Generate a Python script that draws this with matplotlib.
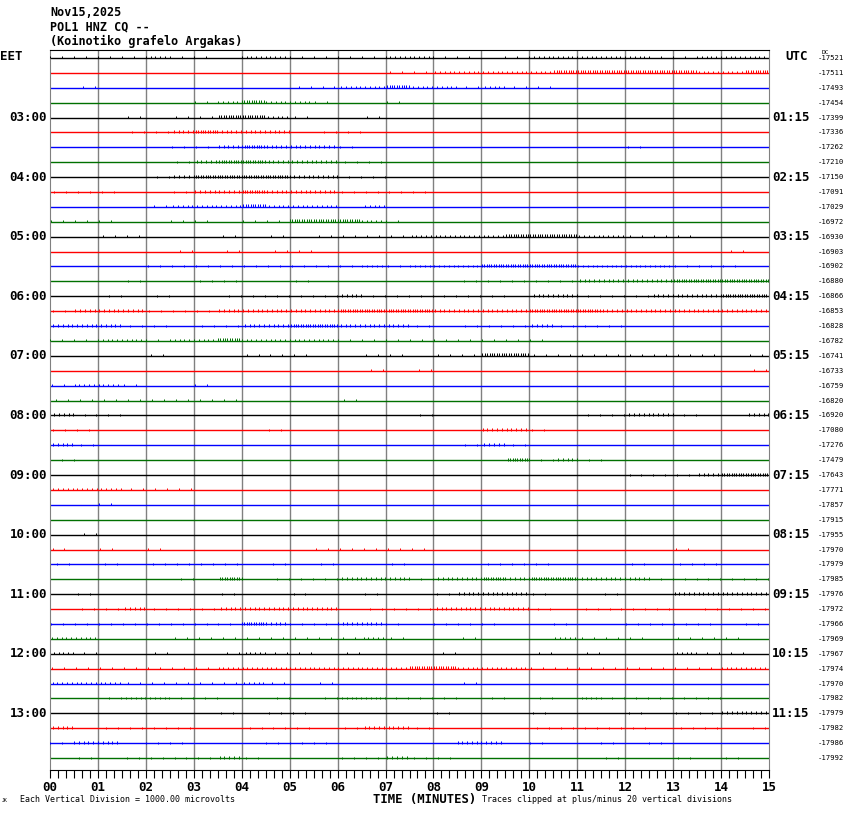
import numpy as np
import matplotlib.pyplot as plt

# ===============================
# DATA (read off the helicorder)
# ===============================
station_lines = ["Nov15,2025", "POL1 HNZ CQ --", "(Koinotiko grafelo Argakas)"]

left_hours = ["03:00", "04:00", "05:00", "06:00", "07:00", "08:00",
              "09:00", "10:00", "11:00", "12:00", "13:00"]
right_hours = ["01:15", "02:15", "03:15", "04:15", "05:15", "06:15",
               "07:15", "08:15", "09:15", "10:15", "11:15"]
hour_rows = [4, 8, 12, 16, 20, 24, 28, 32, 36, 40, 44]

dc_offsets = [-17521, -17511, -17493, -17454, -17399, -17336, -17262, -17210,
              -17150, -17091, -17029, -16972, -16930, -16903, -16902, -16880,
              -16866, -16853, -16828, -16782, -16741, -16733, -16759, -16820,
              -16920, -17080, -17276, -17479, -17643, -17771, -17857, -17915,
              -17955, -17970, -17979, -17985, -17976, -17972, -17966, -17969,
              -17967, -17974, -17970, -17982, -17979, -17982, -17986, -17992]

minute_labels = ["00", "01", "02", "03", "04", "05", "06", "07",
                 "08", "09", "10", "11", "12", "13", "14", "15"]

# signal activity per half minute (0 quiet, 1 sparse, 2 busy, 3 dense)
activity = [
    "11112 11022 11112 21101 22222 11222",
    "00000 00000 00001 12222 23333 33223",
    "01000 00000 11223 22121 10000 00000",
    "00000 01232 21001 00000 00000 00000",
    "00010 11332 10010 00000 00000 00000",
    "00011 23222 01100 00000 00000 00000",
    "00000 11232 22100 00000 00001 00000",
    "00000 12332 22110 00000 00000 00000",
    "00001 23333 22110 00000 00000 00000",
    "11100 12232 22111 10000 00000 00000",
    "00001 22232 22020 00000 00000 00000",
    "11100 11011 33321 00000 00000 00000",
    "00110 00101 01111 22223 33221 11000",
    "00000 10101 10000 00000 00000 00010",
    "00001 11111 11121 22233 33222 21110",
    "00010 01100 10000 00111 11222 23333",
    "00101 00111 11211 11110 22111 22233",
    "12221 11222 22333 32222 33322 22222",
    "22211 01122 33222 10111 21110 00000",
    "11221 22322 22111 11111 10000 00000",
    "00001 00011 10011 01133 11111 11101",
    "00000 00000 00010 10000 00000 00001",
    "12210 01000 00000 00000 00000 00000",
    "11111 11100 00100 00000 00000 00000",
    "21100 00000 00000 10000 00112 21002",
    "11000 00001 00000 00022 10000 00000",
    "21000 00000 00000 00121 00000 00000",
    "10000 00000 00000 00003 12100 00000",
    "00000 00000 00000 00000 00001 11233",
    "22211 10000 00000 00000 00000 00000",
    "00100 00000 00000 00000 00000 00000",
    "00000 00000 00000 00000 00000 00000",
    "01000 00000 00000 00000 00000 00000",
    "10101 00000 01111 10000 00000 01000",
    "10101 11101 01001 00011 10001 01100",
    "00000 10301 11222 12232 33222 11111",
    "01000 00100 10010 01222 10010 02222",
    "01121 11222 22011 12222 10111 10111",
    "11111 11132 11221 01110 01001 11101",
    "22000 11111 11121 00100 02111 01110",
    "21001 00121 10100 01000 10100 02110",
    "11111 11222 22222 33222 11111 11122",
    "22211 11121 01000 00100 00000 00000",
    "00122 11001 01221 11010 10211 11100",
    "00000 00101 10000 01000 10001 01122",
    "20111 10011 10122 10000 11111 01101",
    "12201 10001 11000 00220 10010 10000",
    "01011 11210 00112 11000 00010 01010",
]

trace_colors = ["black", "#ff0000", "#0000ff", "#007000"]

# ===============================
# FIGURE
# ===============================
W, H = 850, 814
fig = plt.figure(figsize=(W / 100, H / 100), dpi=100)
ax = fig.add_axes([50 / W, 1 - 770 / H, 719 / W, 720 / H])

px = 1 / 15.0  # one pixel in trace units
ax.set_xlim(0, 15)
ax.set_ylim(47.0 + 12 * px, -8 * px)

# minute grid
ax.vlines(np.arange(1, 15), -8 * px, 48, color="#808080", lw=1.0, zorder=1)

# ticks per half-minute cell and their height (pixels above the line)
n_ticks = {1: 2, 2: 5, 3: 10}
tick_up = {1: 1.5, 2: 2.0, 3: 2.5}

for i, row in enumerate(activity):
    color = trace_colors[i % 4]
    ax.hlines(i, 0, 15, color=color, lw=1.0, zorder=2)
    cells = [int(c) for c in row.replace(" ", "")]
    shift = (i * 0.37) % 1.0
    for k, lev in enumerate(cells):
        if lev == 0:
            continue
        x0 = k * 0.5
        n = n_ticks[lev]
        xs = x0 + (np.arange(n) + shift) * 0.5 / n
        ax.vlines(xs, i - tick_up[lev] * px, i + 0.5 * px,
                  color=color, lw=0.7, zorder=3)

# frame
for side in ["left", "right"]:
    ax.spines[side].set_color("#808080")
ax.spines["top"].set_color("black")
ax.spines["bottom"].set_color("black")

ax.set_yticks([])
ax.set_xticks(np.arange(16))
ax.set_xticklabels(minute_labels, fontfamily="DejaVu Sans Mono",
                   fontweight="bold", fontsize=9)
ax.set_xticks(np.arange(0, 15.01, 1 / 6), minor=True)
ax.tick_params(axis="x", which="both", direction="out", length=6,
               width=0.8, color="black", pad=2)

# hour labels
ytr = ax.get_yaxis_transform()
for r, lab in zip(hour_rows, left_hours):
    ax.text(-3 / 719, r, lab, transform=ytr, ha="right", va="center",
            fontfamily="DejaVu Sans Mono", fontweight="bold", fontsize=9)
for r, lab in zip(hour_rows, right_hours):
    ax.text(1 + 3 / 719, r, lab, transform=ytr, ha="left", va="center",
            fontfamily="DejaVu Sans Mono", fontweight="bold", fontsize=9)
for r, v in enumerate(dc_offsets):
    ax.text(1 + 49 / 719, r, str(v), transform=ytr, ha="left", va="center",
            fontfamily="DejaVu Sans Mono", fontsize=5.2)

mono = dict(fontfamily="DejaVu Sans Mono")

def ftext(x, y, s, **kw):
    fig.text(x / W, 1 - y / H, s, **mono, **kw)

for k, line in enumerate(station_lines):
    ftext(50, 12 + 14.5 * k, line, fontsize=8.5, fontweight="bold", va="center")

ftext(0, 57, "EET", fontsize=9, fontweight="bold", va="center")
ftext(785, 57, "UTC", fontsize=9, fontweight="bold", va="center")
ftext(822, 52, "DC", fontsize=4.5, va="center")

ftext(2, 801, "JK", fontsize=3.5, va="center")
ftext(20, 800, "Each Vertical Division = 1000.00 microvolts", fontsize=6, va="center")
ftext(373, 799, "TIME (MINUTES)", fontsize=8.8, fontweight="bold", va="center")
ftext(482, 800, "Traces clipped at plus/minus 20 vertical divisions", fontsize=6, va="center")

plt.savefig("out.png", dpi=100)
